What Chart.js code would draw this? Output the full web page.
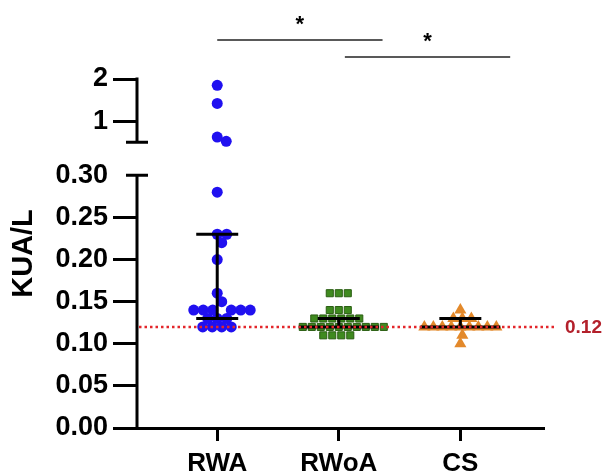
<!DOCTYPE html>
<html>
<head>
<meta charset="utf-8">
<script src="https://cdn.jsdelivr.net/npm/chart.js@4.4.1/dist/chart.umd.min.js"></script>
<style>
    html, body { margin: 0; padding: 0; background: #fff; }
    #wrap { width: 605px; height: 475px; }
</style>
</head>
<body>
<div id="wrap"><canvas id="chart" width="605" height="475"></canvas></div>
<script>
// KUA/L scatter dot plot with broken y axis

const groups = ["RWA", "RWoA", "CS"];

const rwaValues = [1.85, 1.42, 0.62, 0.52, 0.28, 0.23, 0.23, 0.22, 0.20, 0.16, 0.15,
    0.13, 0.13, 0.13, 0.14, 0.14, 0.14, 0.14, 0.14, 0.14, 0.12, 0.12, 0.12, 0.12];
const rwoaValues = [0.16, 0.16, 0.16, 0.14, 0.14, 0.14,
    0.13, 0.13, 0.13, 0.13, 0.13, 0.13,
    0.12, 0.12, 0.12, 0.12, 0.12, 0.12, 0.12, 0.12, 0.12, 0.12,
    0.11, 0.11, 0.11, 0.11];
const csValues = [0.14, 0.13, 0.13, 0.13,
    0.12, 0.12, 0.12, 0.12, 0.12, 0.12, 0.12, 0.12, 0.12,
    0.11, 0.10];

const medians = [0.13, 0.12, 0.12];
const lowerQuartiles = [0.13, 0.12, 0.12];
const upperQuartiles = [0.23, 0.13, 0.13];

const referenceValue = 0.12;
const referenceLabel = "0.12";

const yTickValues = [0, 0.05, 0.10, 0.15, 0.20, 0.25, 0.30, 1, 2];
const yTickLabels = ["0.00", "0.05", "0.10", "0.15", "0.20", "0.25", "0.30", "1", "2"];

// significance brackets (from / to in category units)
const comparisons = [
    { from: 0, to: 1.36, label: "*" },
    { from: 1.05, to: 2.41, label: "*" }
];

// broken axis: 0-0.30 below, 0.5-2 above (compressed)
const lowTop = 0.30;
const highBottom = 0.5;
const highTop = 2;
const gapSize = 0.0393;
const highFactor = 0.05;

function toAxis(v) {
    if (v <= lowTop) return v;
    return lowTop + gapSize + (v - highBottom) * highFactor;
}

const FONT = "'Liberation Sans', Arial, Helvetica, sans-serif";
Chart.defaults.font.family = FONT;
Chart.defaults.color = "#000";

const swarmSpacing = [9.5, 8.7, 8.6];
const medianHalf = [21, 40, 40];
const capHalf = 21;

function makePoints(values, index) {
    return values.map(v => ({ x: index, y: toAxis(v) }));
}

// broken axis line, error bars, reference line, brackets
const decorations = {
    id: "decorations",
    afterDatasetsDraw(chart) {
        const ctx = chart.ctx;
        const xs = chart.scales.x;
        const ys = chart.scales.y;
        const area = chart.chartArea;

        ctx.save();
        ctx.strokeStyle = "#000";
        ctx.lineWidth = 3;
        ctx.lineCap = "butt";
        groups.forEach((g, i) => {
            const cx = xs.getPixelForValue(i);
            const top = ys.getPixelForValue(toAxis(upperQuartiles[i]));
            const bot = ys.getPixelForValue(toAxis(lowerQuartiles[i]));
            const med = ys.getPixelForValue(toAxis(medians[i]));
            ctx.beginPath();
            ctx.moveTo(cx, bot);
            ctx.lineTo(cx, top);
            ctx.moveTo(cx - capHalf, top);
            ctx.lineTo(cx + capHalf, top);
            ctx.moveTo(cx - capHalf, bot);
            ctx.lineTo(cx + capHalf, bot);
            ctx.moveTo(cx - medianHalf[i], med);
            ctx.lineTo(cx + medianHalf[i], med);
            ctx.stroke();
        });

        // reference line
        const ry = ys.getPixelForValue(toAxis(referenceValue));
        ctx.strokeStyle = "#e3262b";
        ctx.lineWidth = 2.5;
        ctx.setLineDash([2.5, 3]);
        ctx.beginPath();
        ctx.moveTo(area.left + 2, ry);
        ctx.lineTo(area.right + 13, ry);
        ctx.stroke();
        ctx.setLineDash([]);
        ctx.fillStyle = "#b3202b";
        ctx.font = "bold 19px " + FONT;
        ctx.textAlign = "left";
        ctx.textBaseline = "middle";
        ctx.fillText(referenceLabel, area.right + 22, ry + 1);

        // y axis segments with break caps
        const ax = area.left;
        const y0 = ys.getPixelForValue(0);
        const yLowTop = ys.getPixelForValue(lowTop);
        const yHighBottom = ys.getPixelForValue(toAxis(highBottom));
        const yHighTop = ys.getPixelForValue(toAxis(highTop));
        ctx.strokeStyle = "#000";
        ctx.lineWidth = 3;
        ctx.beginPath();
        ctx.moveTo(ax, y0 + 1.5);
        ctx.lineTo(ax, yLowTop);
        ctx.moveTo(ax - 11, yLowTop);
        ctx.lineTo(ax + 11, yLowTop);
        ctx.moveTo(ax, yHighBottom);
        ctx.lineTo(ax, yHighTop - 1.5);
        ctx.moveTo(ax - 11, yHighBottom);
        ctx.lineTo(ax + 11, yHighBottom);
        ctx.stroke();

        // significance brackets
        const levels = [area.top - 39, area.top - 22];
        ctx.lineWidth = 1.5;
        ctx.strokeStyle = "#222";
        ctx.fillStyle = "#000";
        ctx.font = "bold 22px " + FONT;
        ctx.textAlign = "center";
        ctx.textBaseline = "middle";
        comparisons.forEach((c, i) => {
            const x1 = xs.getPixelForValue(c.from);
            const x2 = xs.getPixelForValue(c.to);
            ctx.beginPath();
            ctx.moveTo(x1, levels[i]);
            ctx.lineTo(x2, levels[i]);
            ctx.stroke();
            ctx.fillText(c.label, (x1 + x2) / 2, levels[i] - 15);
        });
        ctx.restore();
    }
};

const chart = new Chart(document.getElementById("chart"), {
    type: "scatter",
    data: {
        datasets: [
            {
                label: groups[0],
                data: makePoints(rwaValues, 0),
                pointStyle: "circle",
                pointRadius: 5.5,
                backgroundColor: "#2010f0",
                borderColor: "#2010f0",
                borderWidth: 0
            },
            {
                label: groups[1],
                data: makePoints(rwoaValues, 1),
                pointStyle: "rect",
                pointRadius: 5,
                backgroundColor: "#3f8a1f",
                borderColor: "#2a5e12",
                borderWidth: 1
            },
            {
                label: groups[2],
                data: makePoints(csValues, 2),
                pointStyle: "triangle",
                pointRadius: 7,
                backgroundColor: "#e3892b",
                borderColor: "#e3892b",
                borderWidth: 0
            }
        ]
    },
    options: {
        responsive: false,
        animation: false,
        layout: { padding: { left: 0, right: 62, top: 79, bottom: 0 } },
        plugins: {
            legend: { display: false },
            tooltip: { enabled: false }
        },
        scales: {
            x: {
                type: "linear",
                min: -0.66,
                max: 2.68,
                afterBuildTicks: scale => {
                    scale.ticks = groups.map((g, i) => ({ value: i }));
                },
                afterFit: scale => { scale.height = 47; },
                ticks: {
                    autoSkip: false,
                    maxRotation: 0,
                    padding: 7,
                    font: { size: 26, weight: "bold" },
                    callback: (value, index) => groups[index]
                },
                grid: {
                    drawOnChartArea: false,
                    drawTicks: true,
                    tickLength: 13,
                    lineWidth: 3,
                    color: "#000"
                },
                border: { display: true, width: 3, color: "#000" }
            },
            y: {
                type: "linear",
                min: 0,
                max: toAxis(highTop),
                afterBuildTicks: scale => {
                    scale.ticks = yTickValues.map(v => ({ value: toAxis(v) }));
                },
                afterFit: scale => { scale.width = 137; },
                ticks: {
                    autoSkip: false,
                    padding: 5,
                    font: { size: 27, weight: "bold" },
                    callback: (value, index) => yTickLabels[index]
                },
                grid: {
                    drawOnChartArea: false,
                    drawTicks: true,
                    tickLength: 24,
                    lineWidth: 3,
                    color: ctx => (ctx.tick && Math.abs(ctx.tick.value - lowTop) < 1e-9) ? "rgba(0,0,0,0)" : "#000"
                },
                border: { display: false },
                title: {
                    display: true,
                    text: "KUA/L",
                    font: { size: 29, weight: "bold" },
                    padding: { top: 7, bottom: 0 }
                }
            }
        }
    },
    plugins: [decorations]
});

// spread points of each group sideways so they don't pile up
function spreadPoints(chart) {
    const xs = chart.scales.x;
    const ys = chart.scales.y;
    chart.data.datasets.forEach((ds, gi) => {
        const placed = [];
        const d = swarmSpacing[gi];
        const cx = xs.getPixelForValue(gi);
        ds.data.forEach(pt => {
            const py = ys.getPixelForValue(pt.y);
            let off = 0;
            for (let k = 0; k < 400; k++) {
                const cand = (k % 2 === 1 ? 1 : -1) * Math.ceil(k / 2) * 0.5;
                const clash = placed.some(p => {
                    const dx = p.px - (cx + cand);
                    const dy = p.py - py;
                    return dx * dx + dy * dy < d * d - 0.01;
                });
                if (!clash) { off = cand; break; }
            }
            placed.push({ px: cx + off, py: py });
            pt.x = xs.getValueForPixel(cx + off);
        });
    });
    chart.update("none");
}

spreadPoints(chart);
</script>
</body>
</html>
